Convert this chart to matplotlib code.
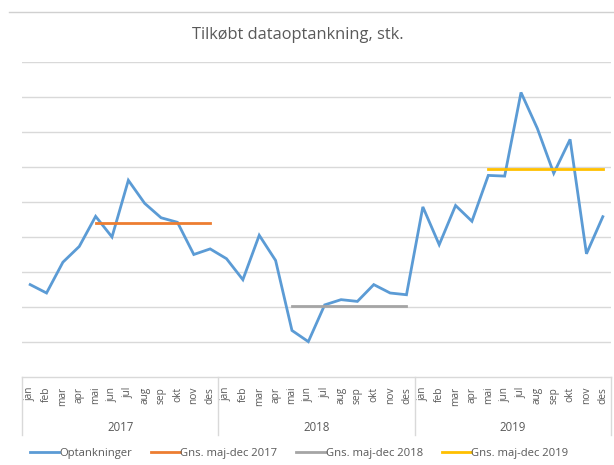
import matplotlib
matplotlib.use("Agg")
import matplotlib.pyplot as plt
from matplotlib.lines import Line2D
from matplotlib.transforms import blended_transform_factory
import numpy as np

plt.rcParams['font.family'] = ['Open Sans', 'DejaVu Sans']

months = ["jan", "feb", "mar", "apr", "mai", "jun", "jul", "aug", "sep", "okt", "nov", "des"]
years = ["2017", "2018", "2019"]

optankninger = [
    2.64, 2.40, 3.28, 3.73, 4.59, 4.00, 5.62, 4.96, 4.55, 4.42, 3.50, 3.66,
    3.38, 2.78, 4.05, 3.33, 1.33, 1.01, 2.06, 2.21, 2.16, 2.64, 2.40, 2.35,
    4.86, 3.78, 4.90, 4.45, 5.76, 5.74, 8.13, 7.10, 5.82, 6.79, 3.52, 4.58,
]
gns_2017 = 4.41
gns_2018 = 2.02
gns_2019 = 5.93

W, H = 614, 465
fig = plt.figure(figsize=(W / 100, H / 100), dpi=100)

left_px, right_px, top_px, bottom_px = 22, 611, 62, 377
ax = fig.add_axes([left_px / W, 1 - bottom_px / H, (right_px - left_px) / W, (bottom_px - top_px) / H])

n = len(optankninger)
x = np.arange(n)

grid_c = "#d9d9d9"
text_c = "#595959"
for v in range(1, 10):
    ax.axhline(v, color=grid_c, lw=1.0, zorder=0)

ax.plot(x, optankninger, color="#5B9BD5", lw=2.0, solid_joinstyle="miter", label="Optankninger", zorder=3)
ax.plot(x[4:12], [gns_2017] * 8, color="#ED7D31", lw=2.0, label="Gns. maj-dec 2017", zorder=4)
ax.plot(x[16:24], [gns_2018] * 8, color="#A5A5A5", lw=2.0, label="Gns. maj-dec 2018", zorder=4)
ax.plot(x[28:36], [gns_2019] * 8, color="#FFC000", lw=2.0, label="Gns. maj-dec 2019", zorder=4)

ax.set_xlim(-0.5, n - 0.5)
ax.set_ylim(0, 9)
for s in ["top", "right", "left"]:
    ax.spines[s].set_visible(False)
ax.spines["bottom"].set_color(grid_c)
ax.spines["bottom"].set_linewidth(1.0)
ax.set_yticks([])

ax.set_xticks(x)
ax.set_xticklabels(months * len(years), rotation=90, fontsize=7.3, color=text_c)
ax.tick_params(axis="x", length=0, pad=7)

# year separators
trans = blended_transform_factory(ax.transData, fig.transFigure)
sep_bottom = 1 - 435 / H
sep_top = 1 - bottom_px / H
for b in np.arange(-0.5, n, 12):
    fig.add_artist(Line2D([b, b], [sep_bottom, sep_top], transform=trans, color=grid_c, lw=1.0))

for i, yr in enumerate(years):
    fig.text(i * 12 + 5.5, 1 - 427 / H, yr, transform=trans, fontsize=8.3, color=text_c, ha="center", va="center")

# top border line
fig.add_artist(Line2D([9 / W, 1], [1 - 12 / H, 1 - 12 / H], transform=fig.transFigure, color="#d0d0d0", lw=1.0))

fig.text(298 / W, 1 - 35 / H, "Tilkøbt dataoptankning, stk.", fontsize=11.8, color=text_c, ha="center", va="center")

fig.legend(loc="center", bbox_to_anchor=(299 / W, 1 - 453 / H), ncol=4, frameon=False, fontsize=8.1,
           handlelength=2.6, handletextpad=0.0, columnspacing=1.7, labelcolor=text_c)

fig.savefig("out.png", dpi=100)
